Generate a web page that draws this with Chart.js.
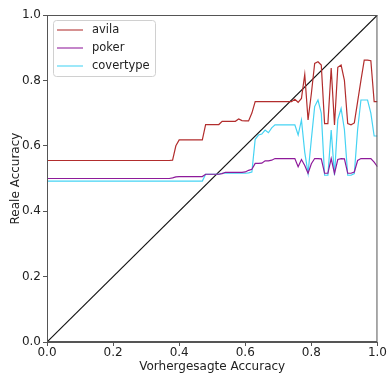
<!DOCTYPE html>
<html>
<head>
<meta charset="utf-8">
<script src="https://cdn.jsdelivr.net/npm/chart.js@4.4.1/dist/chart.umd.min.js"></script>
<style>
  html, body { margin: 0; padding: 0; background: #fff; }
  #wrap { width: 387px; height: 376px; }
</style>
</head>
<body>
<div id="wrap"><canvas id="chart" width="387" height="376"></canvas></div>
<script>
const xValues = [0, 0.37, 0.38, 0.39, 0.40, 0.41, 0.42, 0.43, 0.44, 0.45, 0.46, 0.47, 0.48, 0.49, 0.50, 0.51, 0.52, 0.53, 0.54, 0.55, 0.56, 0.57, 0.58, 0.59, 0.60, 0.61, 0.62, 0.63, 0.64, 0.65, 0.66, 0.67, 0.68, 0.69, 0.70, 0.71, 0.72, 0.73, 0.74, 0.75, 0.76, 0.77, 0.78, 0.79, 0.80, 0.81, 0.82, 0.83, 0.84, 0.85, 0.86, 0.87, 0.88, 0.89, 0.90, 0.91, 0.92, 0.93, 0.94, 0.95, 0.96, 0.97, 0.98, 0.99, 1.00];

const avila = [0.555, 0.555, 0.556, 0.600, 0.618, 0.618, 0.618, 0.618, 0.618, 0.618, 0.618, 0.618, 0.665, 0.665, 0.665, 0.665, 0.665, 0.675, 0.675, 0.675, 0.675, 0.675, 0.682, 0.677, 0.676, 0.676, 0.700, 0.735, 0.735, 0.735, 0.735, 0.735, 0.735, 0.735, 0.735, 0.735, 0.735, 0.735, 0.735, 0.742, 0.733, 0.745, 0.818, 0.679, 0.760, 0.852, 0.857, 0.847, 0.668, 0.668, 0.838, 0.664, 0.840, 0.847, 0.800, 0.668, 0.664, 0.670, 0.735, 0.800, 0.862, 0.862, 0.860, 0.735, 0.735];

const poker = [0.500, 0.500, 0.502, 0.505, 0.506, 0.506, 0.506, 0.506, 0.506, 0.506, 0.506, 0.506, 0.513, 0.513, 0.513, 0.513, 0.513, 0.515, 0.519, 0.519, 0.519, 0.519, 0.519, 0.519, 0.520, 0.525, 0.528, 0.546, 0.546, 0.547, 0.554, 0.554, 0.556, 0.561, 0.561, 0.561, 0.561, 0.561, 0.561, 0.561, 0.536, 0.558, 0.540, 0.516, 0.545, 0.561, 0.561, 0.560, 0.516, 0.516, 0.561, 0.516, 0.558, 0.561, 0.560, 0.516, 0.516, 0.520, 0.555, 0.561, 0.561, 0.561, 0.561, 0.550, 0.536];

const covertype = [0.492, 0.492, 0.492, 0.492, 0.492, 0.492, 0.492, 0.492, 0.492, 0.492, 0.492, 0.492, 0.513, 0.513, 0.513, 0.513, 0.513, 0.516, 0.516, 0.516, 0.516, 0.516, 0.516, 0.516, 0.516, 0.517, 0.520, 0.620, 0.633, 0.636, 0.648, 0.640, 0.655, 0.664, 0.664, 0.664, 0.664, 0.664, 0.664, 0.664, 0.633, 0.679, 0.580, 0.516, 0.620, 0.720, 0.740, 0.700, 0.510, 0.510, 0.648, 0.510, 0.680, 0.714, 0.650, 0.510, 0.510, 0.515, 0.650, 0.740, 0.740, 0.740, 0.700, 0.630, 0.630];

const diagX = [0, 1];
const diagY = [0, 1];

const seriesNames = ["avila", "poker", "covertype"];
const seriesColors = ["#b22d2d", "#8e1a9a", "#45d3f3"];
const axisTicks = [0, 0.2, 0.4, 0.6, 0.8, 1.0];

function toPoints(xs, ys) {
    return xs.map((x, i) => ({ x: x, y: ys[i] }));
}

const FONT = "'DejaVu Sans', sans-serif";

// legend drawn inside the plot, top left like matplotlib
const innerLegend = {
    id: "innerLegend",
    afterDraw(chart) {
        const ctx = chart.ctx;
        const area = chart.chartArea;
        const left = area.left + 6;
        const top = area.top + 5;
        ctx.save();
        ctx.fillStyle = "rgba(255,255,255,0.85)";
        ctx.strokeStyle = "#d0d0d0";
        ctx.lineWidth = 1;
        ctx.beginPath();
        ctx.roundRect(left + 0.5, top + 0.5, 102, 56, 3);
        ctx.fill();
        ctx.stroke();
        ctx.font = "11.5px " + FONT;
        ctx.textBaseline = "middle";
        seriesNames.forEach((name, i) => {
            const y = top + 10 + i * 18;
            ctx.strokeStyle = seriesColors[i];
            ctx.globalAlpha = 0.7;
            ctx.lineWidth = 1.5;
            ctx.beginPath();
            ctx.moveTo(left + 4, y);
            ctx.lineTo(left + 30, y);
            ctx.stroke();
            ctx.globalAlpha = 1;
            ctx.fillStyle = "#222";
            ctx.fillText(name, left + 39, y);
        });
        ctx.restore();
    }
};

// full box around the plot
const frameBox = {
    id: "frameBox",
    afterDatasetsDraw(chart) {
        const ctx = chart.ctx;
        const a = chart.chartArea;
        ctx.save();
        ctx.strokeStyle = "#555";
        ctx.lineWidth = 1;
        ctx.strokeRect(a.left + 0.5, a.top + 0.5, a.right - a.left - 1, a.bottom - a.top - 1);
        ctx.restore();
    }
};

const datasets = seriesNames.map((name, i) => ({
    label: name,
    data: toPoints(xValues, [avila, poker, covertype][i]),
    borderColor: seriesColors[i],
    borderWidth: 1.2,
    pointRadius: 0,
    tension: 0
}));
datasets.push({
    label: "diag",
    data: toPoints(diagX, diagY),
    borderColor: "#111",
    borderWidth: 1.1,
    pointRadius: 0
});

new Chart(document.getElementById("chart"), {
    type: "line",
    data: { datasets: datasets },
    options: {
        responsive: false,
        animation: false,
        layout: { padding: { left: 0, top: 15, right: 9, bottom: 0 } },
        plugins: {
            legend: { display: false },
            tooltip: { enabled: false }
        },
        scales: {
            x: {
                type: "linear",
                min: 0,
                max: 1,
                afterBuildTicks: (s) => { s.ticks = axisTicks.map(v => ({ value: v })); },
                afterFit: (s) => { s.height = 34; },
                grid: { drawOnChartArea: false, tickLength: 4, color: "#555", tickColor: "#555" },
                border: { color: "#555" },
                ticks: {
                    color: "#222",
                    padding: 0,
                    maxRotation: 0,
                    font: { family: FONT, size: 12 },
                    callback: (v) => v.toFixed(1)
                },
                title: {
                    display: true,
                    text: "Vorhergesagte Accuracy",
                    color: "#222",
                    font: { family: FONT, size: 12 },
                    padding: { top: 0, bottom: 2 }
                }
            },
            y: {
                min: 0,
                max: 1,
                afterBuildTicks: (s) => { s.ticks = axisTicks.map(v => ({ value: v })); },
                afterFit: (s) => { s.width = 47; },
                grid: { drawOnChartArea: false, tickLength: 4, color: "#555", tickColor: "#555" },
                border: { color: "#555" },
                ticks: {
                    color: "#222",
                    padding: 2,
                    font: { family: FONT, size: 12 },
                    callback: (v) => v.toFixed(1)
                },
                title: {
                    display: true,
                    text: "Reale Accuracy",
                    color: "#222",
                    font: { family: FONT, size: 12 },
                    padding: { top: 9, bottom: 0 }
                }
            }
        }
    },
    plugins: [innerLegend, frameBox]
});
</script>
</body>
</html>
